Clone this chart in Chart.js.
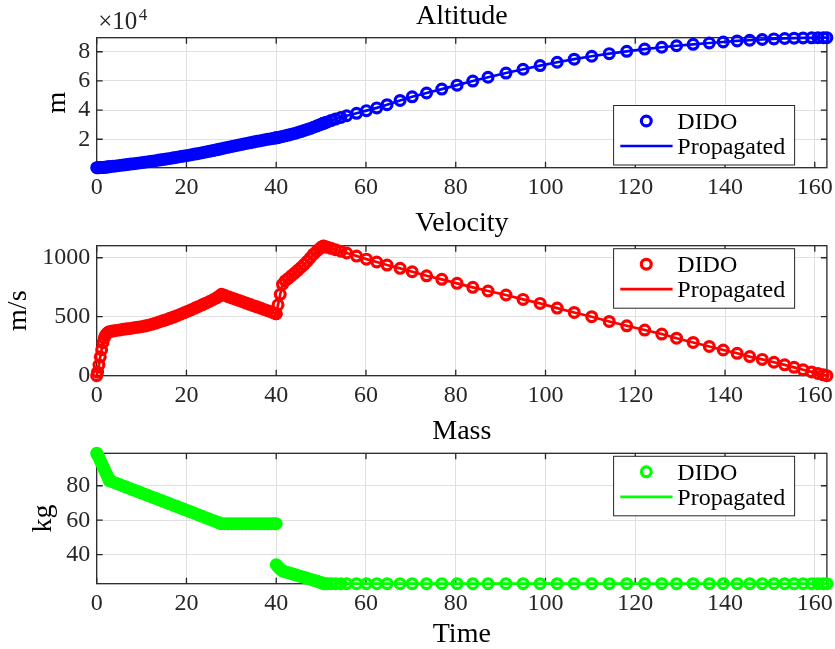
<!DOCTYPE html>
<html>
<head>
<meta charset="utf-8">
<script src="https://cdn.jsdelivr.net/npm/chart.js@4.4.1/dist/chart.umd.min.js"></script>
<style>
  html, body { margin: 0; padding: 0; background: #ffffff; }
  #wrap { position: relative; width: 835px; height: 649px; }
  #wrap canvas { position: absolute; left: 0; top: 0; }
</style>
</head>
<body>
<div id="wrap">
  <canvas id="cAlt" width="835" height="649"></canvas>
  <canvas id="cVel" width="835" height="649"></canvas>
  <canvas id="cMass" width="835" height="649"></canvas>
</div>
<script>
// ---------------- DATA ----------------
const timeS = [
  0, 0.2, 0.5, 0.8, 1.1, 1.4, 1.7, 2.0, 2.3, 2.6, 2.8,
  3.5, 4.3, 5.1, 5.9, 6.7, 7.5, 8.3, 9.1, 9.9, 10.7, 11.5, 12.3, 13.1, 13.9, 14.7, 15.5,
  16.3, 17.1, 17.9, 18.7, 19.5, 20.3, 21.1, 21.9, 22.7, 23.5, 24.3, 25.1, 25.9, 26.7, 27.3, 27.8,
  28.5, 29.3, 30.1, 30.9, 31.7, 32.5, 33.3, 34.1, 34.9, 35.7, 36.5, 37.3, 38.1, 38.9, 39.5, 40.0,
  40.0, 40.4, 40.9, 41.4, 42.0, 42.7, 43.4, 44.1, 44.8, 45.5, 46.2, 46.9, 47.6, 48.3, 49.0, 49.6, 50.1, 50.5,
  50.6, 50.9, 51.4, 52.2, 53.2, 54.4, 55.7, 57.9, 60.1, 62.4, 64.7, 67.6, 70.3, 73.5, 76.9, 80.3,
  83.8, 87.2, 91.2, 95.0, 98.8, 102.6, 106.4, 110.3, 114.2, 118.1, 122.1, 125.9, 129.2, 132.9,
  136.5, 139.6, 142.7, 145.5, 148.3, 150.9, 153.3, 155.4, 157.4, 159.3, 160.7, 161.9, 162.7
];
const altitudeM = [
  500, 510, 540, 590, 650, 720, 800, 890, 990, 1090, 1160,
  1420, 1720, 2020, 2330, 2640, 2960, 3280, 3610, 3940, 4280, 4630, 4990, 5350, 5720, 6100, 6480,
  6870, 7270, 7680, 8100, 8520, 8950, 9390, 9840, 10300, 10770, 11250, 11740, 12250, 12770, 13170, 13510,
  13990, 14520, 15050, 15570, 16080, 16590, 17090, 17580, 18070, 18550, 19020, 19490, 19950, 20400, 20730, 21000,
  21000, 21230, 21550, 21900, 22340, 22880, 23440, 24020, 24620, 25240, 26000, 26700, 27450, 28250, 29050, 29800, 30400, 30900,
  31000, 31350, 31900, 32800, 33850, 35000, 36100, 37800, 39600, 41500, 43700, 46600, 49100, 51700, 54400, 57100,
  59900, 62500, 65400, 68000, 70500, 72800, 74900, 76900, 78700, 80300, 81800, 83100, 84100, 85100,
  86000, 86700, 87400, 87900, 88400, 88800, 89100, 89300, 89450, 89550, 89600, 89620, 89630
];
const velocityMS = [
  0, 30, 90, 160, 220, 280, 320, 345, 360, 368, 372,
  378, 383, 388, 393, 397, 401, 406, 410, 415, 421, 428, 436, 445, 455, 465, 475,
  486, 497, 509, 521, 534, 547, 560, 573, 587, 601, 615, 629, 644, 660, 675, 690,
  681, 670, 659, 648, 638, 627, 616, 605, 594, 584, 573, 562, 551, 540, 532, 525,
  525, 600, 690, 775, 805, 825, 848, 870, 893, 917, 942, 970, 1000, 1030, 1055, 1075, 1092, 1100,
  1098, 1094, 1088, 1080, 1068, 1055, 1040, 1014, 988, 964, 938, 910, 881, 847, 817, 783,
  749, 718, 684, 647, 613, 573, 536, 500, 460, 423, 387, 353, 318, 282,
  248, 218, 190, 162, 138, 114, 92, 71, 50, 32, 19, 7, 0
];
const massKg = [
  98.8, 97.9, 96.3, 94.6, 92.9, 91.2, 89.5, 87.8, 86.1, 84.4, 83.0,
  82.3, 81.5, 80.7, 79.9, 79.1, 78.3, 77.5, 76.7, 75.9, 75.1, 74.3, 73.5, 72.7, 71.9, 71.1, 70.3,
  69.5, 68.7, 67.9, 67.1, 66.3, 65.5, 64.7, 63.9, 63.1, 62.3, 61.5, 60.7, 59.9, 59.1, 58.5, 58.0,
  58.0, 58.0, 58.0, 58.0, 58.0, 58.0, 58.0, 58.0, 58.0, 58.0, 58.0, 58.0, 58.0, 58.0, 58.0, 58.0,
  34.2, 32.9, 31.6, 30.6, 30.1, 29.6, 29.1, 28.5, 28.0, 27.4, 26.9, 26.3, 25.8, 25.2, 24.7, 24.2, 23.8, 23.4,
  23.2, 23.2, 23.2, 23.2, 23.2, 23.2, 23.2, 23.2, 23.2, 23.2, 23.2, 23.2, 23.2, 23.2, 23.2, 23.2,
  23.2, 23.2, 23.2, 23.2, 23.2, 23.2, 23.2, 23.2, 23.2, 23.2, 23.2, 23.2, 23.2, 23.2,
  23.2, 23.2, 23.2, 23.2, 23.2, 23.2, 23.2, 23.2, 23.2, 23.2, 23.2, 23.2, 23.2
];
const xTicks = [0, 20, 40, 60, 80, 100, 120, 140, 160];
const altTicks = [20000, 40000, 60000, 80000];
const velTicks = [0, 500, 1000];
const massTicks = [40, 60, 80];
const seriesLabels = ['DIDO', 'Propagated'];

// ---------------- STYLE ----------------
const SERIF = "'Liberation Serif', 'Times New Roman', serif";
const AXIS_COLOR = '#262626';
const GRID_COLOR = '#e0e0e0';
const MARKER_R = 4.9;
const MARKER_W = 3.2;

function markerData(t, v) { return t.map((x, i) => ({ x: x, y: v[i] })); }
function lineData(t, v) {
  const out = [];
  t.forEach((x, i) => {
    if (i > 0 && x === t[i - 1]) out.push({ x: x, y: null });
    out.push({ x: x, y: v[i] });
  });
  return out;
}

const matlabPlugin = {
  id: 'matlab',
  beforeDatasetsDraw(chart, args, o) {
    const { ctx, chartArea: a } = chart;
    const x = chart.scales.x, y = chart.scales.y;
    ctx.save();
    ctx.strokeStyle = AXIS_COLOR;
    ctx.lineWidth = 1.3;
    ctx.beginPath();
    const L = 6;
    x.ticks.forEach(t => {
      const p = x.getPixelForValue(t.value);
      ctx.moveTo(p, a.bottom); ctx.lineTo(p, a.bottom - L);
      ctx.moveTo(p, a.top); ctx.lineTo(p, a.top + L);
    });
    y.ticks.forEach(t => {
      const p = y.getPixelForValue(t.value);
      ctx.moveTo(a.left, p); ctx.lineTo(a.left + L, p);
      ctx.moveTo(a.right, p); ctx.lineTo(a.right - L, p);
    });
    ctx.stroke();
    ctx.strokeRect(a.left, a.top, a.right - a.left, a.bottom - a.top);
    ctx.restore();
  },
  afterDatasetsDraw(chart, args, o) {
    const { ctx, chartArea: a } = chart;
    ctx.save();
    // legend
    const w = 181, h = 59.5;
    const right = a.right - 32.3;
    const left = right - w;
    const top = o.legendPos === 'se' ? a.bottom - 2.7 - h : a.top + 3;
    ctx.fillStyle = '#ffffff';
    ctx.fillRect(left, top, w, h);
    ctx.strokeStyle = '#262626';
    ctx.lineWidth = 1;
    ctx.strokeRect(left, top, w, h);
    const r1 = top + 15.5, r2 = top + 40.5;
    ctx.strokeStyle = o.color;
    ctx.lineWidth = MARKER_W;
    ctx.beginPath();
    ctx.arc(left + 32.7, r1, MARKER_R, 0, Math.PI * 2);
    ctx.stroke();
    ctx.lineWidth = 2.7;
    ctx.beginPath();
    ctx.moveTo(left + 6.7, r2); ctx.lineTo(left + 59, r2);
    ctx.stroke();
    ctx.fillStyle = '#000000';
    ctx.font = '24px ' + SERIF;
    ctx.textAlign = 'left';
    ctx.textBaseline = 'alphabetic';
    ctx.fillText(chart.data.datasets[0].label, left + 63.7, r1 + 8);
    ctx.fillText(chart.data.datasets[1].label, left + 63.7, r2 + 8);
    // exponent
    if (o.exponent) {
      ctx.fillStyle = AXIS_COLOR;
      ctx.font = '25px ' + SERIF;
      ctx.fillText('\u00d710', a.left + 1.5, 29);
      const wx = ctx.measureText('\u00d710').width;
      ctx.font = '17px ' + SERIF;
      ctx.fillText(o.exponent, a.left + 2 + wx + 1, 20);
    }
    ctx.restore();
  }
};

function makeChart(id, cfg) {
  return new Chart(document.getElementById(id), {
    type: 'scatter',
    data: {
      datasets: [
        {
          label: seriesLabels[0],
          data: markerData(timeS, cfg.values),
          showLine: false,
          pointStyle: 'circle',
          pointRadius: MARKER_R,
          pointBorderWidth: MARKER_W,
          pointBorderColor: cfg.color,
          pointBackgroundColor: 'rgba(0,0,0,0)',
          borderColor: cfg.color,
          clip: false,
          order: 1
        },
        {
          label: seriesLabels[1],
          data: lineData(timeS, cfg.values),
          showLine: true,
          spanGaps: false,
          pointRadius: 0,
          borderWidth: 2.7,
          borderColor: cfg.color,
          clip: false,
          order: 0
        }
      ]
    },
    options: {
      responsive: false,
      animation: false,
      devicePixelRatio: 1,
      events: [],
      layout: { padding: cfg.padding },
      plugins: {
        legend: { display: false },
        tooltip: { enabled: false },
        title: {
          display: true,
          text: cfg.title,
          fullSize: false,
          color: '#000000',
          font: { family: SERIF, size: 28, weight: 'normal', lineHeight: 1 },
          padding: { top: 0, bottom: cfg.titleGap }
        },
        matlab: { legendPos: cfg.legendPos, color: cfg.color, exponent: cfg.exponent }
      },
      scales: {
        x: {
          type: 'linear',
          min: 0,
          max: 162.7,
          afterBuildTicks: s => { s.ticks = xTicks.map(v => ({ value: v })); },
          afterFit: s => { s.height = cfg.xHeight; s.paddingLeft = 0; s.paddingRight = 0; },
          grid: { color: GRID_COLOR, lineWidth: 1, drawTicks: false },
          border: { display: false },
          ticks: { color: AXIS_COLOR, padding: 6, maxRotation: 0, autoSkip: false,
                   font: { family: SERIF, size: 24, lineHeight: 1.2 } },
          title: cfg.xTitle ? { display: true, text: cfg.xTitle, color: '#000000',
                   font: { family: SERIF, size: 28, lineHeight: 1 }, padding: { top: 0, bottom: 0 } } : { display: false }
        },
        y: {
          type: 'linear',
          min: cfg.yMin,
          max: cfg.yMax,
          afterBuildTicks: s => { s.ticks = cfg.yTicks.map(v => ({ value: v })); },
          afterFit: s => { s.width = cfg.yWidth; s.paddingTop = 0; s.paddingBottom = 0; },
          grid: { color: GRID_COLOR, lineWidth: 1, drawTicks: false },
          border: { display: false },
          ticks: { color: AXIS_COLOR, padding: 6.5, autoSkip: false,
                   font: { family: SERIF, size: 24, lineHeight: 1.2 },
                   callback: v => String(cfg.tickScale ? v / cfg.tickScale : v) },
          title: { display: true, text: cfg.yTitle, color: '#000000',
                   font: { family: SERIF, size: 28, lineHeight: 1 }, padding: { top: 0, bottom: 0 } }
        }
      }
    },
    plugins: [matlabPlugin]
  });
}

makeChart('cAlt', {
  values: altitudeM, color: '#0000ff', title: 'Altitude', yTitle: 'm',
  yMin: 500, yMax: 89630, yTicks: altTicks, tickScale: 10000, exponent: '4',
  legendPos: 'se', titleGap: 7.2, xHeight: 40, yWidth: 53,
  padding: { left: 43.7, top: 2.5, right: 7.7, bottom: 441.3 }
});
makeChart('cVel', {
  values: velocityMS, color: '#ff0000', title: 'Velocity', yTitle: 'm/s',
  yMin: 0, yMax: 1102, yTicks: velTicks, legendPos: 'ne',
  titleGap: 7.8, xHeight: 40, yWidth: 91.7,
  padding: { left: 5, top: 209.9, right: 7.7, bottom: 233.3 }
});
makeChart('cMass', {
  values: massKg, color: '#00ff00', title: 'Mass', yTitle: 'kg', xTitle: 'Time',
  yMin: 23.2, yMax: 98.8, yTicks: massTicks, legendPos: 'ne',
  titleGap: 8.1, xHeight: 65.3, yWidth: 67.3,
  padding: { left: 29.4, top: 417.2, right: 7.7, bottom: 0 }
});
</script>
</body>
</html>
